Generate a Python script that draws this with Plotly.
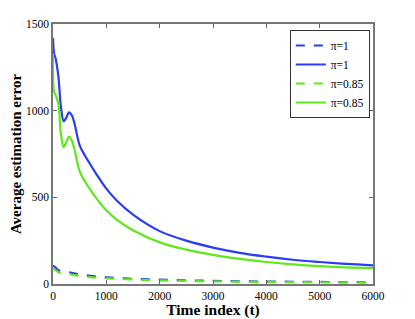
import plotly.graph_objects as go

t_solid = [0, 20, 50, 100, 150, 200, 250, 300, 350, 400, 500, 600, 700, 800, 1000, 1200, 1500, 2000, 2500, 3000, 3500, 4000, 4500, 5000, 5500, 6000]
blue_solid = [1420, 1330, 1300, 1200, 1020, 940, 960, 990, 975, 930, 800, 740, 690, 640, 550, 480, 400, 305, 250, 210, 180, 158, 140, 127, 116, 108]
green_solid = [1330, 1110, 1090, 1040, 860, 790, 820, 850, 830, 780, 650, 590, 545, 500, 425, 370, 310, 240, 198, 168, 145, 127, 113, 103, 96, 92]

t_dash = [0, 50, 100, 200, 300, 400, 500, 700, 1000, 1500, 2000, 2500, 3000, 4000, 5000, 6000]
blue_dash = [105, 95, 80, 72, 68, 62, 55, 47, 38, 30, 25, 21, 18, 14, 12, 10]
green_dash = [88, 80, 68, 60, 56, 52, 46, 40, 33, 26, 21, 18, 15, 12, 10, 9]

names = ["π=1", "π=1", "π=0.85", "π=0.85"]
BLUE = "#2a3cf5"
GREEN = "#5fe81a"

fig = go.Figure()
fig.add_trace(go.Scatter(x=t_dash, y=blue_dash, mode="lines", name=names[0],
                         line=dict(color=BLUE, width=2.2, dash="dash", shape="spline")))
fig.add_trace(go.Scatter(x=t_solid, y=blue_solid, mode="lines", name=names[1],
                         line=dict(color=BLUE, width=2.2, shape="spline")))
fig.add_trace(go.Scatter(x=t_dash, y=green_dash, mode="lines", name=names[2],
                         line=dict(color=GREEN, width=2.2, dash="dash", shape="spline")))
fig.add_trace(go.Scatter(x=t_solid, y=green_solid, mode="lines", name=names[3],
                         line=dict(color=GREEN, width=2.2, shape="spline")))

font = "Liberation Serif"
fig.update_layout(
    width=407, height=311,
    margin=dict(l=45, r=42, t=16, b=35),
    paper_bgcolor="white", plot_bgcolor="white",
    font=dict(family=font, size=11, color="black"),
    showlegend=True,
    legend=dict(x=0.99, y=0.977, xanchor="right", yanchor="top",
                bgcolor="white", bordercolor="#333", borderwidth=1,
                font=dict(family=font, size=11.5), tracegroupgap=0,
                itemwidth=30),
    xaxis=dict(range=[0, 6000], tickvals=[0, 1000, 2000, 3000, 4000, 5000, 6000],
               ticks="inside", ticklen=4, tickcolor="#666", showline=True, linecolor="#777",
               linewidth=1.5, mirror="ticks", showgrid=False, zeroline=False, automargin=False,
               tickfont=dict(size=11.5),
               title=dict(text="<b>Time index (t)</b>", font=dict(family=font, size=15.5), standoff=0)),
    yaxis=dict(range=[0, 1500], tickvals=[0, 500, 1000, 1500],
               ticks="inside", ticklen=4, tickcolor="#666", showline=True, linecolor="#777",
               linewidth=1.5, mirror="ticks", showgrid=False, zeroline=False, automargin=False,
               tickfont=dict(size=11.5),
               title=dict(text="<b>Average estimation error</b>", font=dict(family=font, size=15), standoff=8)),
)

fig.write_html("out.html")
